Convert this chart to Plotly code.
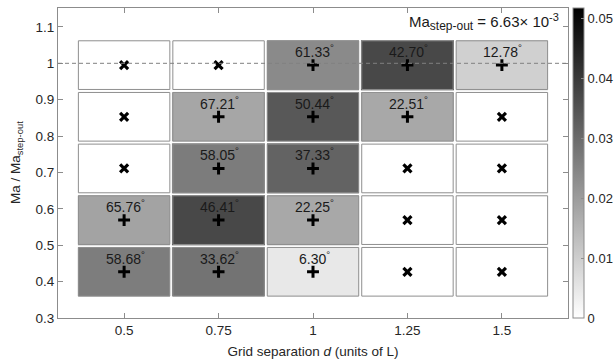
import plotly.graph_objects as go

# ---- data ----
d_values = [0.5, 0.75, 1.0, 1.25, 1.5]
ma_ratio = [0.427, 0.569, 0.711, 0.853, 0.995]
x_ticks = [0.5, 0.75, 1.0, 1.25, 1.5]
x_ticktext = ["0.5", "0.75", "1", "1.25", "1.5"]
y_ticks = [0.3, 0.4, 0.5, 0.6, 0.7, 0.8, 0.9, 1.0, 1.1]
y_ticktext = ["0.3", "0.4", "0.5", "0.6", "0.7", "0.8", "0.9", "1", "1.1"]
cb_ticks = [0, 0.01, 0.02, 0.03, 0.04, 0.05]
cb_ticktext = ["0", "0.01", "0.02", "0.03", "0.04", "0.05"]

# colour value per cell (rows = ma_ratio, cols = d_values)
z_row_043 = [0.0264, 0.0284, 0.0047, 0.0, 0.0]
z_row_057 = [0.0187, 0.0372, 0.0177, 0.0, 0.0]
z_row_071 = [0.0, 0.0266, 0.0317, 0.0, 0.0]
z_row_085 = [0.0, 0.0181, 0.0339, 0.0177, 0.0]
z_row_099 = [0.0, 0.0, 0.0238, 0.0372, 0.0096]

# angle labels (None = no step-out, marked with x)
ang_row_043 = [58.68, 33.62, 6.30, None, None]
ang_row_057 = [65.76, 46.41, 22.25, None, None]
ang_row_071 = [None, 58.05, 37.33, None, None]
ang_row_085 = [None, 67.21, 50.44, 22.51, None]
ang_row_099 = [None, None, 61.33, 42.70, 12.78]

z_max = 0.0518
ma_stepout_label = ("Ma<sub><span style='font-size:12px'>step-out</span></sub>"
                    " = 6.63× 10<sup><span style='font-size:11px'>-3</span></sup>")
x_title = "Grid separation <i>d</i> (units of L)"
y_title = "Ma / Ma<sub>step-out</sub>"

z = [z_row_043, z_row_057, z_row_071, z_row_085, z_row_099]
angles = [ang_row_043, ang_row_057, ang_row_071, ang_row_085, ang_row_099]

FONT = "Liberation Sans, Arial, sans-serif"
TXT = "#262626"
AX = "#8c8c8c"
FS = 13.5

fig = go.Figure()

fig.add_trace(go.Heatmap(
    x=d_values, y=ma_ratio, z=z,
    zmin=0, zmax=z_max,
    colorscale=[[0, "#ffffff"], [1, "#000000"]],
    xgap=2, ygap=2,
    hoverinfo="skip",
    colorbar=dict(
        x=1.0098, xanchor="left", xpad=0, ypad=0,
        y=0.5, yanchor="middle", len=1, lenmode="fraction",
        thickness=11, thicknessmode="pixels",
        outlinecolor=AX, outlinewidth=1,
        tickvals=cb_ticks, ticktext=cb_ticktext,
        ticks="inside", ticklen=3, tickcolor=AX,
        tickfont=dict(family=FONT, size=13, color=TXT),
    ),
))

# markers
px_plus, py_plus, px_x, py_x = [], [], [], []
for i, yv in enumerate(ma_ratio):
    for j, xv in enumerate(d_values):
        if angles[i][j] is None:
            px_x.append(xv); py_x.append(yv)
        else:
            px_plus.append(xv); py_plus.append(yv)

fig.add_trace(go.Scatter(
    x=px_plus, y=py_plus, mode="markers", hoverinfo="skip",
    marker=dict(symbol="cross-thin", size=8.5, line=dict(width=3, color="black")),
    showlegend=False))
fig.add_trace(go.Scatter(
    x=px_x, y=py_x, mode="markers", hoverinfo="skip",
    marker=dict(symbol="x-thin", size=8, line=dict(width=3.2, color="black")),
    showlegend=False))

# cell borders
dx = (d_values[1] - d_values[0]) / 2
dy = (ma_ratio[1] - ma_ratio[0]) / 2
px_unit_x = (1.675 - 0.325) / 510
px_unit_y = (1.152 - 0.3) / 310
shapes = []
for yv in ma_ratio:
    for xv in d_values:
        shapes.append(dict(
            type="rect", xref="x", yref="y",
            x0=xv - dx + 1.5 * px_unit_x, x1=xv + dx - 1.5 * px_unit_x,
            y0=yv - dy + 1.5 * px_unit_y, y1=yv + dy - 1.5 * px_unit_y,
            line=dict(color="#8f8f8f", width=1), layer="above"))
shapes.append(dict(type="line", xref="paper", yref="y", x0=0, x1=1, y0=1, y1=1,
                   line=dict(color="#808080", width=1, dash="4px,3px"), layer="above"))

annotations = []
for i, yv in enumerate(ma_ratio):
    for j, xv in enumerate(d_values):
        a = angles[i][j]
        if a is not None:
            annotations.append(dict(
                x=xv, y=yv, xref="x", yref="y",
                text=f"{a:.2f}<sup>°</sup>", showarrow=False,
                xanchor="center", yanchor="middle", yshift=14, xshift=1,
                font=dict(family=FONT, size=14, color="#1a1a1a")))
annotations.append(dict(
    x=1, y=1, xref="paper", yref="paper", xanchor="right", yanchor="top",
    xshift=-7, yshift=-1, showarrow=False, text=ma_stepout_label,
    font=dict(family=FONT, size=15, color="#1a1a1a")))
annotations.append(dict(
    x=0, y=0.5, xref="paper", yref="paper", xanchor="center", yanchor="middle",
    xshift=-42, showarrow=False, textangle=-90, text=y_title,
    font=dict(family=FONT, size=FS, color=TXT)))

fig.update_layout(
    width=616, height=362,
    margin=dict(l=58, r=48, t=8, b=44, autoexpand=False),
    paper_bgcolor="white", plot_bgcolor="white",
    shapes=shapes, annotations=annotations,
    showlegend=False,
    font=dict(family=FONT, size=FS, color=TXT),
    xaxis=dict(
        range=[0.325, 1.675], tickvals=x_ticks, ticktext=x_ticktext,
        showgrid=False, zeroline=False, showline=True, linecolor=AX, linewidth=1,
        mirror="ticks", ticks="inside", ticklen=5, tickcolor=AX, automargin=False,
        tickfont=dict(family=FONT, size=FS, color=TXT),
        title=dict(text=x_title, standoff=9,
                   font=dict(family=FONT, size=FS, color=TXT)),
    ),
    yaxis=dict(
        range=[0.3, 1.152], tickvals=y_ticks, ticktext=y_ticktext,
        showgrid=False, zeroline=False, showline=True, linecolor=AX, linewidth=1,
        mirror="ticks", ticks="inside", ticklen=5, tickcolor=AX, automargin=False,
        tickfont=dict(family=FONT, size=FS, color=TXT),
    ),
)

fig.write_html(
    "out.html",
    config={"displayModeBar": False},
    post_script="document.body.style.margin='0';document.body.style.overflow='hidden';",
)
